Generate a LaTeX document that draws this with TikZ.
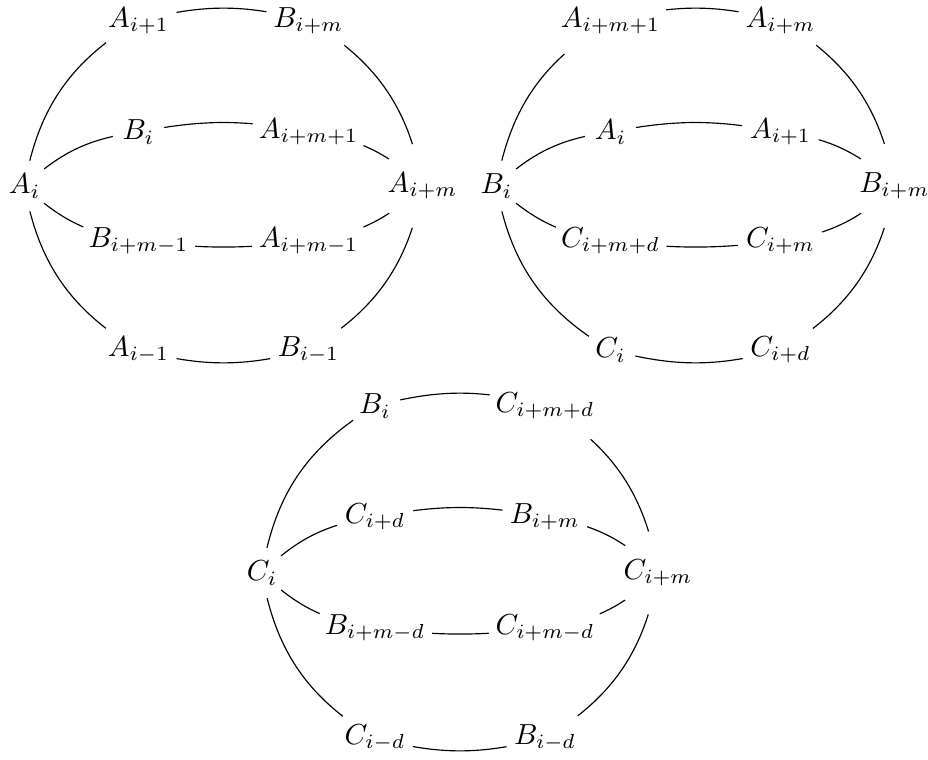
\documentclass[tikz,border=0pt]{standalone}
\usetikzlibrary{backgrounds}
\begin{document}
\begin{tikzpicture}[x=0.3448pt,y=0.3448pt,
  v/.style={circle,inner sep=1.5pt,fill=white},
  con/.style={line width=0.4pt},
  outU/.style={bend left=25},
  outD/.style={bend right=25},
  topH/.style={bend left=15},
  botH/.style={bend right=15},
  inU/.style={bend left=18},
  inD/.style={bend right=18},
  inTop/.style={bend left=11},
  inBot/.style={bend right=7}]
\useasboundingbox (0,0) rectangle (928,759);
% ---------- graph 1 ----------
\node[v] (aL)  at (24.5,573) {$A_i$};
\node[v] (aTL) at (138.5,738) {$A_{i+1}$};
\node[v] (aTR) at (308.5,738) {$B_{i+m}$};
\node[v] (aR)  at (422.5,573) {$A_{i+m}$};
\node[v] (aIL) at (138.5,627) {$B_i$};
\node[v] (aIR) at (308.5,627) {$A_{i+m+1}$};
\node[v] (aJL) at (138.5,518) {$B_{i+m-1}$};
\node[v] (aJR) at (308.5,518) {$A_{i+m-1}$};
\node[v] (aBL) at (138.5,409) {$A_{i-1}$};
\node[v] (aBR) at (308.5,409) {$B_{i-1}$};
% ---------- graph 2 ----------
\node[v] (bL)  at (496.5,573) {$B_i$};
\node[v] (bTL) at (610.5,738) {$A_{i+m+1}$};
\node[v] (bTR) at (780.5,738) {$A_{i+m}$};
\node[v] (bR)  at (894.5,573) {$B_{i+m}$};
\node[v] (bIL) at (610.5,627) {$A_i$};
\node[v] (bIR) at (780.5,627) {$A_{i+1}$};
\node[v] (bJL) at (610.5,518) {$C_{i+m+d}$};
\node[v] (bJR) at (780.5,518) {$C_{i+m}$};
\node[v] (bBL) at (610.5,409) {$C_i$};
\node[v] (bBR) at (780.5,409) {$C_{i+d}$};
% ---------- graph 3 ----------
\node[v] (cL)  at (262,186) {$C_i$};
\node[v] (cTL) at (375,353) {$B_i$};
\node[v] (cTR) at (545,353) {$C_{i+m+d}$};
\node[v] (cR)  at (658,186) {$C_{i+m}$};
\node[v] (cIL) at (375,242) {$C_{i+d}$};
\node[v] (cIR) at (545,242) {$B_{i+m}$};
\node[v] (cJL) at (375,131) {$B_{i+m-d}$};
\node[v] (cJR) at (545,131) {$C_{i+m-d}$};
\node[v] (cBL) at (375,21) {$C_{i-d}$};
\node[v] (cBR) at (545,21) {$B_{i-d}$};
\begin{pgfonlayer}{background}
\foreach \g in {a,b,c}{
  \draw[con] (\g L.center) to[outU] (\g TL.center);
  \draw[con] (\g TL.center) to[topH] (\g TR.center);
  \draw[con] (\g TR.center) to[outU] (\g R.center);
  \draw[con] (\g L.center) to[outD] (\g BL.center);
  \draw[con] (\g BL.center) to[botH] (\g BR.center);
  \draw[con] (\g BR.center) to[outD] (\g R.center);
  \draw[con] (\g L.center) to[inU] (\g IL.center);
  \draw[con] (\g IL.center) to[inTop] (\g IR.center);
  \draw[con] (\g IR.center) to[inU] (\g R.center);
  \draw[con] (\g L.center) to[inD] (\g JL.center);
  \draw[con] (\g JL.center) to[inBot] (\g JR.center);
  \draw[con] (\g JR.center) to[inD] (\g R.center);
}
\end{pgfonlayer}
\end{tikzpicture}
\end{document}
